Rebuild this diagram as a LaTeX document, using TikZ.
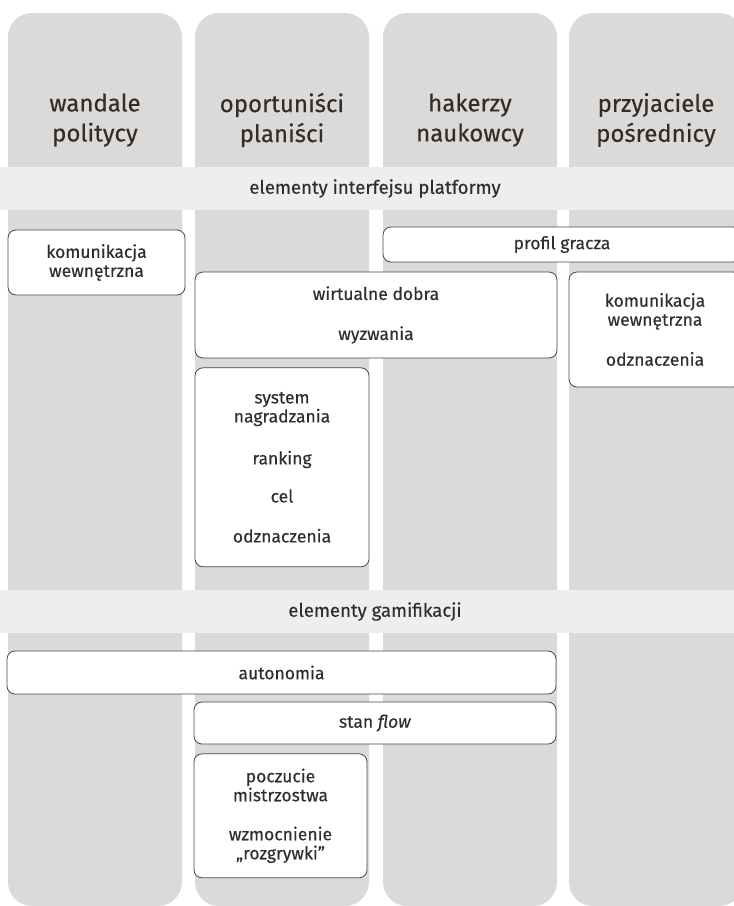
\documentclass[tikz,border=0pt]{standalone}
\usepackage{fontspec}
\setmainfont{Fira Sans}[FakeBold=0.3]
\usetikzlibrary{positioning}

\definecolor{lanegray}{HTML}{DBDAD8}
\definecolor{bandgray}{HTML}{EEEEEE}
\definecolor{ink}{HTML}{332D2A}
\definecolor{boxline}{HTML}{4A4644}

\begin{document}
\begin{tikzpicture}[x=1pt,y=-1pt,
  lane/.style={
    fill=lanegray, rectangle, rounded corners=24pt,
    minimum width=174pt, minimum height=893pt, inner sep=0pt
  },
  head/.style={
    align=center, text=ink, font={\fontsize{24}{30}\selectfont}
  },
  band/.style={
    fill=bandgray, rectangle, minimum width=760pt, minimum height=43pt,
    inner sep=0pt, text=ink, font={\fontsize{18.6}{19}\selectfont}
  },
  item/.style={
    draw=boxline, line width=0.8pt, fill=white, rectangle, rounded corners=8pt,
    align=center, inner sep=0pt, text=ink, font={\fontsize{17.5}{19}\selectfont}
  }
]
\clip (0,0) rectangle (734,906);

% Four player columns
\foreach \i/\x in {1/95,2/282,3/470,4/656} {
  \node[lane] (lane\i) at (\x,459.5) {};
}

% Column headings
\node[head] (h1) at (95,120)  {wandale\\politycy};
\node[head] (h2) at (282,120) {oportuniści\\planiści};
\node[head] (h3) at (470,120) {hakerzy\\naukowcy};
\node[head] (h4) at (656,120) {przyjaciele\\pośrednicy};

% Bands across all columns
\node[band] (ui)  at (375,188.5) {elementy interfejsu platformy};
\node[band] (gam) at (375,611.5) {elementy gamifikacji};

% Platform interface elements
\node[item, minimum width=177pt, minimum height=65pt]  (comm1)   at (96.5,262.5) {komunikacja\\wewnętrzna};
\node[item, minimum width=358pt, minimum height=35pt]  (profile) at (562,244.5)  {profil gracza};
\node[item, minimum width=362pt, minimum height=86pt]  (goods)   at (376,315)    {wirtualne dobra\\[21pt]wyzwania};
\node[item, minimum width=172pt, minimum height=115pt] (comm2)   at (655,329.5)  {komunikacja\\wewnętrzna\\[21pt]odznaczenia};
\node[item, minimum width=174pt, minimum height=199pt,
      below=9pt of goods.south west, anchor=north west] (reward)
      {system\\nagradzania\\[23pt]ranking\\[19pt]cel\\[21pt]odznaczenia};

% Gamification elements
\node[item, minimum width=549pt, minimum height=43pt] (auton) at (281.5,672.5) {autonomia};
\node[item, minimum width=362pt, minimum height=42pt] (flow)  at (375,723)     {stan \textit{flow}};
\node[item, minimum width=173pt, minimum height=124pt,
      below=9pt of flow.south west, anchor=north west] (mastery)
      {poczucie\\mistrzostwa\\[20pt]wzmocnienie\\„rozgrywki”};

\end{tikzpicture}
\end{document}
